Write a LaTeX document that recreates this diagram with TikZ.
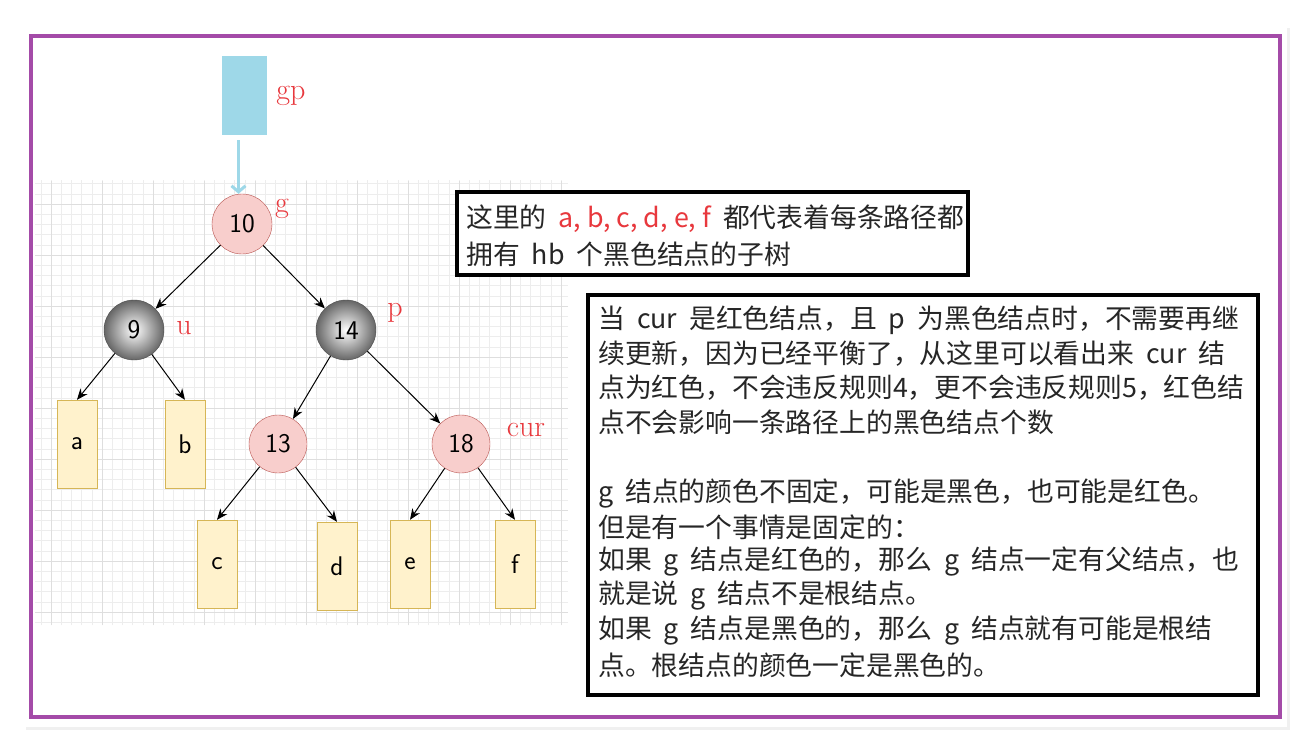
\documentclass[tikz,border=0pt]{standalone}
\usepackage{fontspec}
\newfontfamily\cjk{Noto Sans CJK SC}
\usetikzlibrary{arrows.meta,shadings}
\definecolor{rd}{HTML}{E8383D}
\definecolor{pur}{HTML}{A44BA8}
\definecolor{pinkf}{HTML}{F8CECC}
\definecolor{pinkd}{HTML}{B85450}
\definecolor{yelf}{HTML}{FFF2CC}
\definecolor{yeld}{HTML}{D6B656}
\definecolor{lb}{HTML}{9ED8E8}
\tikzset{
 rednode/.style={circle,draw=pinkd,fill=pinkf,minimum size=60pt,inner sep=0,font=\sffamily\fontsize{27}{27}\selectfont},
 blknode/.style={circle,draw=black!70,inner color=white,outer color=black!60,minimum size=60pt,inner sep=0,font=\sffamily\fontsize{27}{27}\selectfont},
 leaf/.style={draw=yeld,fill=yelf,minimum width=40pt,minimum height=88pt,inner sep=0,font=\sffamily\fontsize{27}{27}\selectfont},
 lab/.style={text=rd,font=\fontsize{30}{30}\selectfont},
 edge/.style={-{Stealth[length=11pt,width=9pt]},line width=1pt},
 tline/.style={anchor=west,font=\cjk\fontsize{26.8}{26.8}\selectfont,inner sep=0,text=black!85}
}
\begin{document}
\begin{tikzpicture}[x=1pt,y=-1pt]
\useasboundingbox (0,0) rectangle (1313,754);
\fill[white] (0,0) rectangle (1313,754);
\fill[black!6] (26,28) rectangle (1290,730);
\fill[white] (24,26) rectangle (1287,727);
% grid
\begin{scope}
\clip (35,180) rectangle (568,625);
\fill[white] (35,180) rectangle (568,625);
\draw[black!7,line width=0.5pt] (35,180) grid[step=10.2pt] (568,625);
\draw[black!13,line width=0.8pt] (13,181) grid[step=51pt] (568,625);
\end{scope}
\draw[pur,line width=4pt] (31,36) rectangle (1280,717);
% gp
\node[fill=lb,minimum width=45pt,minimum height=79pt,inner sep=0] (gp) at (244.5,95.5) {};
\node[lab] (gpl) at (291,96) {gp};
% nodes
\node[rednode] (n10) at (242,224) {10};
\node[blknode] (n9) at (134,330) {9};
\node[blknode] (n14) at (346,330) {14};
\node[rednode,minimum size=58pt] (n13) at (278,444) {13};
\node[rednode,minimum size=58pt] (n18) at (461,444) {18};
\node[leaf] (a) at (77,444) {a};
\node[leaf] (b) at (185,444) {b};
\node[leaf] (c) at (217,564) {c};
\node[leaf] (d) at (337,566) {d};
\node[leaf] (e) at (410,564) {e};
\node[leaf] (f) at (515,564) {f};
\node[lab] (gl) at (282,209) {g};
\node[lab] (ul) at (184,328) {u};
\node[lab] (pl) at (395,313) {p};
\node[lab] (curl) at (526,430) {cur};
\draw[lb,line width=3pt,-{Straight Barb[length=6pt,width=14pt]}] (gp.south)++(-6,5) coordinate (gs) -- (gs |- n10.north);
\draw[edge] (n10) -- (n9);
\draw[edge] (n10) -- (n14);
\draw[edge] (n9) -- (a.north);
\draw[edge] (n9) -- (b.north);
\draw[edge] (n14) -- (n13);
\draw[edge] (n14) -- (n18);
\draw[edge] (n13) -- (c.north);
\draw[edge] (n13) -- (d.north);
\draw[edge] (n18) -- (e.north);
\draw[edge] (n18) -- (f.north);
% text box 1
\draw[line width=4pt,fill=white] (457,192) rectangle (968,275);
\node[tline] (t1) at (466,219) {这里的\ \ \textcolor{rd}{a, b, c, d, e, f}\ \ 都代表着每条路径都};
\node[tline] (t2) at (466,254) {拥有\ \ hb\ \ 个黑色结点的子树};
% text box 2
\draw[line width=4pt,fill=white] (588,295) rectangle (1258,695);
\node[tline] (s1) at (598,320) {当\ \ cur\ \ 是红色结点，且\ \ p\ \ 为黑色结点时，不需要再继};
\node[tline] (s2) at (598,354) {续更新，因为已经平衡了，从这里可以看出来\ \ cur\ \ 结};
\node[tline] (s3) at (598,388) {点为红色，不会违反规则4，更不会违反规则5，红色结};
\node[tline] (s4) at (598,422) {点不会影响一条路径上的黑色结点个数};
\node[tline] (s5) at (598,493) {g\ \ 结点的颜色不固定，可能是黑色，也可能是红色。};
\node[tline] (s6) at (598,527) {但是有一个事情是固定的：};
\node[tline] (s7) at (598,561) {如果\ \ g\ \ 结点是红色的，那么\ \ g\ \ 结点一定有父结点，也};
\node[tline] (s8) at (598,596) {就是说\ \ g\ \ 结点不是根结点。};
\node[tline] (s9) at (598,631) {如果\ \ g\ \ 结点是黑色的，那么\ \ g\ \ 结点就有可能是根结};
\node[tline] (s10) at (598,665) {点。根结点的颜色一定是黑色的。};
\end{tikzpicture}
\end{document}
